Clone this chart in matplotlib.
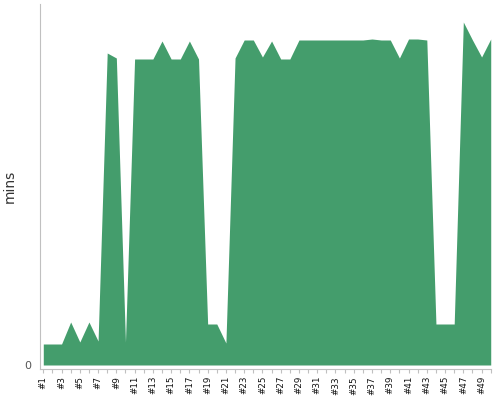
import matplotlib
matplotlib.use('Agg')
import matplotlib.pyplot as plt
import numpy as np

# build labels #1..#50
builds = ['#%d' % i for i in range(1, 51)]
mins = [2.1, 2.1, 2.1, 4.3, 2.3, 4.3, 2.4, 31.2, 30.7, 2.3,
        30.6, 30.6, 30.6, 32.4, 30.6, 30.6, 32.4, 30.6, 4.1, 4.1,
        2.2, 30.7, 32.5, 32.5, 30.8, 32.4, 30.6, 30.6, 32.5, 32.5,
        32.5, 32.5, 32.5, 32.5, 32.5, 32.5, 32.6, 32.5, 32.5, 30.7,
        32.6, 32.6, 32.5, 4.1, 4.1, 4.1, 34.3, 32.5, 30.8, 32.6]

x = np.arange(len(builds))

fig = plt.figure(figsize=(5, 4), dpi=100)
ax = fig.add_axes([0.08, 0.0775, 0.902, 0.9125])
ax.fill_between(x, 0, mins, color='#449d6c', linewidth=0)

ax.set_xlim(-0.36, 49.03)
ax.set_ylim(-0.4, 36.1)

ax.set_xticks(x)
ax.set_xticklabels([b if i % 2 == 0 else '' for i, b in enumerate(builds)],
                   rotation=90, fontsize=6.3, color='#111111')
ax.set_yticks([0])
ax.set_yticklabels(['0'], fontsize=8, color='#555555')
ax.set_ylabel('mins', fontsize=10, color='#333333')
ax.yaxis.set_label_coords(-0.051, 0.5)

for s in ['top', 'right']:
    ax.spines[s].set_visible(False)
ax.spines['left'].set_color('#c0c0c0')
ax.spines['bottom'].set_color('#c0c0c0')
ax.tick_params(axis='x', length=3, color='#c0c0c0', pad=2)
ax.tick_params(axis='y', length=0, pad=6)

fig.savefig('out.png')
